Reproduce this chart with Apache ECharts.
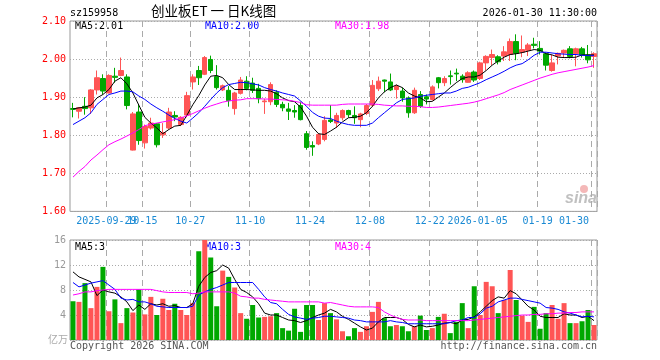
<!DOCTYPE html>
<html><head><meta charset="utf-8">
<script src="https://cdn.jsdelivr.net/npm/echarts@6/dist/echarts.min.js"></script>
<style>html,body{margin:0;padding:0;background:#fff}#c{width:660px;height:360px}</style>
</head><body><div id="c"></div>
<script>
const dates = ['2025-09-19','2025-09-22','2025-09-23','2025-09-24','2025-09-25','2025-09-26','2025-09-29','2025-09-30','2025-10-09','2025-10-10',
'2025-10-13','2025-10-14','2025-10-15','2025-10-16','2025-10-17','2025-10-20','2025-10-21','2025-10-22','2025-10-23','2025-10-24',
'2025-10-27','2025-10-28','2025-10-29','2025-10-30','2025-10-31','2025-11-03','2025-11-04','2025-11-05','2025-11-06','2025-11-07',
'2025-11-10','2025-11-11','2025-11-12','2025-11-13','2025-11-14','2025-11-17','2025-11-18','2025-11-19','2025-11-20','2025-11-21',
'2025-11-24','2025-11-25','2025-11-26','2025-11-27','2025-11-28','2025-12-01','2025-12-02','2025-12-03','2025-12-04','2025-12-05',
'2025-12-08','2025-12-09','2025-12-10','2025-12-11','2025-12-12','2025-12-15','2025-12-16','2025-12-17','2025-12-18','2025-12-19',
'2025-12-22','2025-12-23','2025-12-24','2025-12-25','2025-12-26','2025-12-29','2025-12-30','2025-12-31','2026-01-05','2026-01-06',
'2026-01-07','2026-01-08','2026-01-09','2026-01-12','2026-01-13','2026-01-14','2026-01-15','2026-01-16','2026-01-19','2026-01-20',
'2026-01-21','2026-01-22','2026-01-23','2026-01-26','2026-01-27','2026-01-28','2026-01-29','2026-01-30'];

const open = [1.870,1.863,1.876,1.872,1.919,1.949,1.911,1.955,1.957,1.953,
1.761,1.861,1.780,1.819,1.830,1.801,1.819,1.852,1.828,1.853,
1.940,1.970,1.960,1.999,1.954,1.919,1.918,1.870,1.910,1.942,
1.937,1.923,1.888,1.888,1.913,1.881,1.869,1.865,1.878,1.804,
1.773,1.777,1.789,1.840,1.832,1.846,1.865,1.852,1.841,1.857,
1.879,1.922,1.945,1.940,1.920,1.916,1.898,1.859,1.907,1.901,
1.894,1.951,1.938,1.956,1.963,1.955,1.939,1.966,1.949,1.990,
2.004,2.006,2.008,2.012,2.046,2.018,2.023,2.039,2.028,2.014,
1.970,2.008,2.016,2.027,2.014,2.027,2.011,2.007];
const close = [1.868,1.872,1.870,1.919,1.951,1.916,1.957,1.952,1.970,1.878,
1.856,1.786,1.823,1.832,1.775,1.807,1.861,1.848,1.847,1.904,
1.953,1.951,2.004,1.970,1.925,1.930,1.891,1.911,1.945,1.923,
1.918,1.896,1.890,1.933,1.881,1.872,1.863,1.861,1.841,1.768,
1.769,1.802,1.839,1.836,1.852,1.865,1.854,1.846,1.856,1.878,
1.931,1.942,1.942,1.919,1.928,1.898,1.859,1.918,1.876,1.895,
1.927,1.938,1.949,1.954,1.961,1.946,1.964,1.945,1.990,2.007,
2.012,1.993,2.019,2.046,2.015,2.025,2.037,2.036,2.021,1.984,
1.990,2.015,2.023,2.007,2.027,2.011,1.998,2.014];
const low = [1.847,1.844,1.854,1.856,1.907,1.907,1.910,1.938,1.955,1.868,
1.760,1.775,1.765,1.815,1.768,1.793,1.815,1.837,1.824,1.847,
1.920,1.932,1.958,1.963,1.920,1.916,1.875,1.854,1.907,1.918,
1.911,1.884,1.856,1.879,1.874,1.863,1.840,1.846,1.839,1.762,
1.746,1.774,1.784,1.832,1.819,1.839,1.846,1.830,1.821,1.853,
1.874,1.916,1.913,1.916,1.896,1.888,1.846,1.856,1.872,1.881,
1.891,1.923,1.929,1.933,1.942,1.938,1.938,1.940,1.945,1.970,
1.984,1.986,1.995,1.995,1.997,2.005,2.008,2.028,2.012,1.970,
1.967,1.986,2.004,2.002,1.981,2.004,1.989,1.977];
const high = [1.885,1.874,1.900,1.921,1.970,1.960,1.960,1.977,2.004,1.960,
1.861,1.882,1.828,1.846,1.832,1.832,1.872,1.863,1.850,1.914,
1.960,1.982,2.008,2.009,1.984,1.933,1.929,1.914,1.953,1.955,
1.951,1.935,1.896,1.939,1.918,1.888,1.885,1.879,1.888,1.811,
1.784,1.806,1.850,1.879,1.859,1.868,1.867,1.876,1.859,1.882,
1.945,1.954,1.946,1.962,1.933,1.925,1.902,1.925,1.916,1.907,
1.931,1.953,1.955,1.970,1.975,1.960,1.968,1.970,1.993,2.010,
2.025,2.010,2.034,2.054,2.065,2.062,2.042,2.056,2.047,2.017,
2.011,2.017,2.025,2.034,2.030,2.032,2.037,2.018];

const ma5 = [1.869,1.872,1.874,1.879,1.898,1.907,1.920,1.942,1.951,1.935,
1.911,1.879,1.847,1.832,1.819,1.804,1.815,1.824,1.826,1.852,
1.880,1.904,1.932,1.955,1.957,1.951,1.933,1.920,1.920,1.920,
1.919,1.918,1.918,1.916,1.909,1.898,1.891,1.888,1.874,1.850,
1.821,1.804,1.802,1.811,1.821,1.835,1.846,1.847,1.850,1.859,
1.876,1.898,1.914,1.925,1.932,1.925,1.911,1.903,1.898,1.888,
1.889,1.900,1.911,1.925,1.938,1.949,1.953,1.953,1.958,1.970,
1.984,1.995,2.005,2.012,2.014,2.017,2.021,2.025,2.023,2.014,
2.011,2.005,2.004,2.004,2.005,2.011,2.011,2.011];
const ma10 = [1.828,1.837,1.846,1.859,1.881,1.894,1.907,1.911,1.916,1.916,
1.914,1.903,1.894,1.882,1.872,1.863,1.853,1.844,1.837,1.832,
1.845,1.859,1.876,1.894,1.911,1.925,1.933,1.936,1.939,1.938,
1.935,1.932,1.925,1.920,1.916,1.911,1.907,1.903,1.890,1.876,
1.860,1.850,1.845,1.844,1.837,1.832,1.828,1.826,1.826,1.826,
1.832,1.846,1.859,1.872,1.885,1.894,1.896,1.898,1.902,1.905,
1.907,1.909,1.911,1.911,1.916,1.923,1.926,1.932,1.938,1.946,
1.953,1.960,1.968,1.977,1.984,1.988,1.998,2.010,2.018,2.018,
2.016,2.014,2.013,2.012,2.012,2.010,2.009,2.009];
const ma30 = [1.690,1.705,1.718,1.735,1.748,1.762,1.775,1.783,1.790,1.798,
1.806,1.815,1.825,1.829,1.832,1.835,1.838,1.841,1.845,1.851,
1.857,1.864,1.871,1.877,1.882,1.887,1.890,1.892,1.893,1.896,
1.896,1.896,1.895,1.895,1.894,1.893,1.892,1.889,1.886,1.880,
1.879,1.879,1.879,1.879,1.879,1.881,1.882,1.882,1.882,1.882,
1.882,1.881,1.879,1.878,1.877,1.877,1.876,1.876,1.875,1.873,
1.873,1.874,1.876,1.878,1.880,1.882,1.884,1.887,1.891,1.896,
1.901,1.906,1.912,1.920,1.926,1.932,1.938,1.944,1.950,1.955,
1.960,1.964,1.967,1.970,1.973,1.976,1.979,1.983];

const volume = [6.2,6.1,9.1,5.1,8.5,11.7,4.6,6.5,2.7,5.1,
4.4,8.1,4.1,6.9,4.0,6.6,4.8,5.8,4.8,4.0,
5.9,14.2,16.0,13.2,5.4,11.1,10.1,8.4,4.3,3.4,
5.6,3.6,3.7,3.8,4.3,1.9,1.5,5.0,1.3,5.6,
5.6,3.2,5.9,4.3,3.3,1.4,0.6,1.9,1.3,2.2,
4.5,6.1,3.5,2.2,2.4,2.2,1.4,2.2,3.9,1.6,
1.9,3.7,4.2,1.1,2.9,5.9,1.9,8.6,4.0,9.3,
8.6,4.3,6.4,11.2,6.4,3.9,2.9,5.3,1.8,4.3,
5.6,3.4,5.9,2.7,2.7,3.0,4.8,2.4];
const vma5 = [10.9,10.1,9.7,9.3,7.1,8.0,7.7,7.5,6.9,6.1,
4.7,5.6,4.9,5.8,5.6,5.8,5.4,5.5,5.2,5.2,
5.8,8.6,10.0,10.8,11.1,12.0,11.5,9.7,8.1,7.6,
6.9,5.8,4.3,4.0,4.0,3.6,3.2,3.1,2.8,3.1,
3.6,4.0,4.3,4.9,4.5,3.8,3.3,2.7,2.1,1.6,
1.9,2.9,3.6,3.6,3.6,3.3,2.5,2.1,2.4,2.1,
2.2,2.4,2.7,2.8,2.6,3.2,3.3,3.7,4.5,5.4,
6.3,6.9,6.7,7.9,7.4,6.4,5.4,4.8,3.8,3.6,
3.6,3.6,4.2,4.0,4.0,3.6,3.8,3.1];
const vma10 = [9.2,8.5,8.8,9.1,9.3,9.5,8.8,8.1,6.7,6.4,
6.5,6.1,6.1,5.8,5.4,5.3,5.2,5.2,5.2,5.2,
5.4,7.2,7.7,8.1,8.4,8.8,9.2,9.2,9.2,9.2,
9.2,8.1,6.9,6.0,5.8,4.9,4.1,3.7,3.5,3.3,
3.5,3.6,3.8,3.8,3.7,3.6,3.5,3.2,3.1,2.9,
2.9,2.9,2.9,3.1,2.9,2.8,2.6,2.6,2.6,2.6,
2.6,2.6,2.6,2.8,3.1,3.2,3.6,3.6,4.2,5.1,
5.4,6.1,6.4,6.7,6.7,6.5,6.3,6.1,5.9,5.2,
5.1,4.9,4.5,4.3,4.0,3.7,3.8,3.7];
const vma30 = [7.2,7.4,7.7,7.7,7.9,8.0,8.1,8.1,8.1,8.1,
8.1,8.1,8.1,8.1,7.9,7.7,7.6,7.6,7.6,7.6,
7.4,7.5,7.7,7.7,7.7,7.7,7.7,7.5,7.0,6.9,
6.7,6.7,6.5,6.4,6.3,6.2,6.1,6.1,6.1,6.1,
6.1,6.1,5.9,6.0,5.8,5.6,5.4,5.3,5.3,5.3,
5.3,5.2,4.5,4.0,3.6,3.3,3.2,3.2,3.2,3.1,
3.1,3.1,3.1,3.1,3.1,3.1,3.1,3.2,3.3,3.4,
3.5,3.6,3.7,3.8,3.9,4.0,4.0,4.1,4.1,4.2,
4.2,4.3,4.3,4.4,4.4,4.5,4.5,4.5];

const gridDates = ['2025-09-29','2025-10-15','2025-10-27','2025-11-10','2025-11-24','2025-12-08','2025-12-22','2026-01-05','2026-01-19','2026-01-30'];
const overlapLabelDates = ['2025-10-15'];
const fullDateLabels = ['2025-09-29','2026-01-05'];
const priceTicks = {min:1.6, max:2.1, step:0.1};
const volTicks = {min:0, max:16, step:4};
const titleCode = 'sz159958';
const titleName = '创业板ET 一 日K线图';
const stamp = '2026-01-30 11:30:00';
const priceMaLabels = ['MA5:2.01','MA10:2.00','MA30:1.98'];
const volMaLabels = ['MA5:3','MA10:3','MA30:4'];
const volUnit = '亿万';

const RED = '#ff5555', GREEN = '#00a800';
const MONO = '"DejaVu Sans Mono", monospace';
const gridSet = new Set(gridDates);
const overlapSet = new Set(overlapLabelDates);
const mainLabelSet = new Set(gridDates.filter(d => !overlapSet.has(d)));
const L = 70, W = 527;

const chart = echarts.init(document.getElementById('c'), null, {renderer:'canvas'});

function labelStyle(set){
  return {
    show:true,
    interval:(i,v)=>set.has(v),
    formatter:v=> fullDateLabels.includes(v) ? v : v.slice(5),
    color:'#1a8ad4', fontFamily:MONO, fontSize:10, margin:5,
    padding:[0,5,0,0], alignMaxLabel:'right',
    showMinLabel:true, showMaxLabel:true, hideOverlap:false
  };
}

function xAxis(gi, showLabels){
  return {
    type:'category', gridIndex:gi, data:dates, boundaryGap:true,
    axisLine:{show:false}, axisTick:{show:false},
    axisLabel: showLabels ? labelStyle(mainLabelSet) : {show:false},
    splitLine:{show:true, interval:(i,v)=>gridSet.has(v),
      lineStyle:{color:'#aaaaaa', type:[6,4], width:1}}
  };
}

const ma = (name, data, color, xi) => ({
  type:'line', name, data, xAxisIndex:xi, yAxisIndex:xi, showSymbol:false, symbol:'none',
  lineStyle:{color, width:1}, itemStyle:{color}, silent:true, z:5
});

const mtext = (x, y, text, color, font) => ({type:'text', left:x, top:y, silent:true,
  style:{text, fill:color, font: font || ('10px ' + MONO)}});

const option = {
  animation:false,
  backgroundColor:'#fff',
  grid:[
    {left:L, top:21, width:W, height:190.4, show:true, borderColor:'#999', borderWidth:1, backgroundColor:'transparent'},
    {left:L, top:240, width:W, height:100, show:true, borderColor:'#999', borderWidth:1, backgroundColor:'transparent'}
  ],
  xAxis:[
    xAxis(0,true),
    xAxis(1,false),
    {type:'category', gridIndex:0, data:dates, boundaryGap:true, position:'bottom',
     axisLine:{show:false}, axisTick:{show:false}, splitLine:{show:false},
     axisLabel: Object.assign(labelStyle(overlapSet), {alignMaxLabel:null})}
  ],
  yAxis:[
    {type:'value', gridIndex:0, min:priceTicks.min, max:priceTicks.max, interval:priceTicks.step,
     axisLine:{show:false}, axisTick:{show:false},
     axisLabel:{color:'#ff0000', fontFamily:MONO, fontSize:10, margin:4, formatter:v=>v.toFixed(2)},
     splitLine:{lineStyle:{color:'#aaaaaa', type:[1,2]}}},
    {type:'value', gridIndex:1, min:volTicks.min, max:volTicks.max, interval:volTicks.step,
     axisLine:{show:false}, axisTick:{show:false},
     axisLabel:{color:'#999999', fontFamily:MONO, fontSize:10, margin:4, formatter:v=> v===0 ? '' : String(v)},
     splitLine:{lineStyle:{color:'#aaaaaa', type:[1,2]}}}
  ],
  series:[
    {type:'candlestick', xAxisIndex:0, yAxisIndex:0, barWidth:5,
     data: dates.map((d,i)=>[open[i], close[i], low[i], high[i]]),
     itemStyle:{color:RED, color0:GREEN, borderColor:RED, borderColor0:GREEN, borderWidth:1}, z:3},
    ma('MA5', ma5, '#000000', 0),
    ma('MA10', ma10, '#0000ff', 0),
    ma('MA30', ma30, '#ff00ff', 0),
    {type:'bar', xAxisIndex:1, yAxisIndex:1, barWidth:5,
     data: volume.map((v,i)=>({value:v, itemStyle:{color: close[i] >= open[i] ? RED : GREEN}})), z:3},
    ma('VMA5', vma5, '#000000', 1),
    ma('VMA10', vma10, '#0000ff', 1),
    ma('VMA30', vma30, '#ff00ff', 1)
  ],
  graphic:[
    mtext(70, 8, titleCode, '#000'),
    mtext(151, 4, titleName, '#000', '13.5px "Noto Sans CJK SC"'),
    {type:'text', right:63, top:8, silent:true, style:{text:stamp, fill:'#000', font:'10px ' + MONO}},
    mtext(75, 21, priceMaLabels[0], '#000'),
    mtext(205, 21, priceMaLabels[1], '#0000ff'),
    mtext(335, 21, priceMaLabels[2], '#ff00ff'),
    mtext(75, 242, volMaLabels[0], '#000'),
    mtext(205, 242, volMaLabels[1], '#0000ff'),
    mtext(335, 242, volMaLabels[2], '#ff00ff'),
    mtext(48, 334, volUnit, '#aaaaaa', '10px "Noto Sans CJK SC"'),
    mtext(70, 341, 'Copyright 2026 SINA.COM', '#555'),
    {type:'text', right:63, top:341, silent:true, style:{text:'http://finance.sina.com.cn', fill:'#555', font:'10px ' + MONO}},
    {type:'circle', shape:{cx:584, cy:189, r:4}, style:{fill:'#f4b8b8'}, silent:true},
    {type:'text', left:565, top:191, silent:true, style:{text:'sina', fill:'#c0c0c0', font:'italic bold 16px "Liberation Sans"'}}
  ]
};
chart.setOption(option);
</script></body></html>
